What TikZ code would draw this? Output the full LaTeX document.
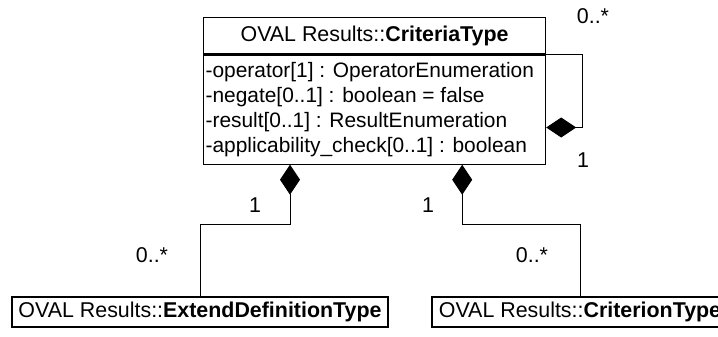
\documentclass[tikz,border=0pt]{standalone}
\usepackage{fontspec}
\setmainfont{Liberation Sans}
\usetikzlibrary{arrows.meta}

\begin{document}
\begin{tikzpicture}[x=0.5pt, y=-0.5pt, line width=0.6pt,
    every node/.style={font=\fontsize{10.7}{12.5}\selectfont},
    classbox/.style={draw, inner sep=0pt, align=center, minimum height=15pt},
    attrbox/.style={draw, inner xsep=1pt, inner ysep=0pt, text width=169pt, align=flush left, minimum height=54.5pt,
        font=\fontsize{10.45}{12.5}\selectfont},
    comp/.style={{Diamond[length=15pt, width=10pt]}-, line width=0.5pt},
    mult/.style={inner sep=0pt}]
    \useasboundingbox (0,0) rectangle (718,337);
    \clip (0,0) rectangle (718,337);

    % CriteriaType class
    \node[classbox, anchor=north west, minimum width=171pt, minimum height=18.3pt] (crit) at (203,16.7) {OVAL Results::\textbf{CriteriaType}};
    \node[attrbox, anchor=north west] (attr) at (crit.south west) {-operator[1] : OperatorEnumeration\\-negate[0..1] : boolean = false\\-result[0..1] : ResultEnumeration\\-applicability\_check[0..1] : boolean};

    % child classes
    \node[classbox, minimum width=188pt] (extdef) at (200,312) {OVAL Results::\textbf{ExtendDefinitionType}};
    \node[classbox, minimum width=148pt] (criterion) at (580,312) {OVAL Results::\textbf{CriterionType}};

    % compositions
    \draw[comp] ([yshift=-36.5pt]attr.north east) -- ++(36,0) |- (crit.south east);
    \draw[comp] ([xshift=43.5pt]attr.south west) -- ++(0,60) -| (extdef.north);
    \draw[comp] ([xshift=-42pt]attr.south east) -- ++(0,60) -| (criterion.north);

    % multiplicities
    \node[mult] (selfmany) at (593,16) {0..*};
    \node[mult] (selfone) at (583,160) {1};
    \node[mult] (extone) at (255,205) {1};
    \node[mult] (extmany) at (152,255) {0..*};
    \node[mult] (critone) at (428,205) {1};
    \node[mult] (critmany) at (532,255) {0..*};
\end{tikzpicture}
\end{document}
